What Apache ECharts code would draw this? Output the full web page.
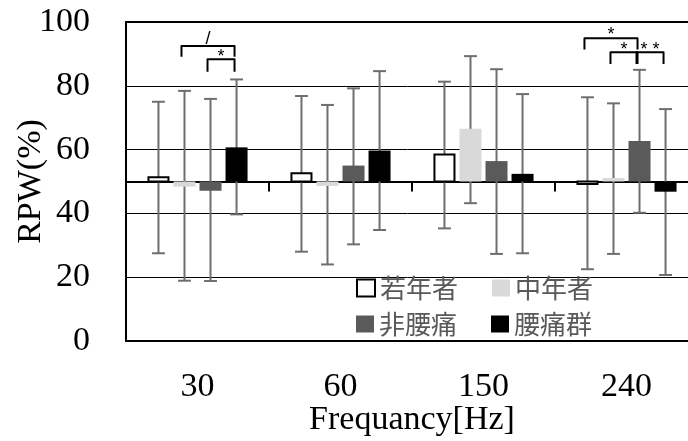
<!DOCTYPE html>
<html>
<head>
<meta charset="utf-8">
<script src="https://cdn.jsdelivr.net/npm/echarts/dist/echarts.min.js"></script>
<style>
  html, body { margin: 0; padding: 0; background: #fff; }
  #chart { width: 688px; height: 441px; }
</style>
</head>
<body>
<div id="chart"></div>
<script>
// categories and groups
var freqs = ['30', '60', '150', '240'];
var groupNames = ['若年者', '中年者', '非腰痛', '腰痛群'];

// mean RPW(%) per group, one value per frequency
var youngMean = [51.3, 52.6, 58.5, 49.2];
var middleMean = [48.4, 48.6, 66.5, 51.1];
var noPainMean = [47.1, 55.0, 56.4, 62.7];
var painMean = [60.7, 59.7, 52.4, 46.8];

// error bar ends (low / high)
var youngLow = [27.5, 28.0, 35.3, 22.5];
var youngHigh = [75.0, 76.8, 81.3, 76.4];
var middleLow = [18.9, 24.0, 43.2, 27.3];
var middleHigh = [78.4, 74.0, 89.3, 74.5];
var noPainLow = [18.8, 30.3, 27.3, 40.2];
var noPainHigh = [75.9, 79.2, 85.2, 85.0];
var painLow = [39.7, 34.8, 27.5, 20.7];
var painHigh = [82.0, 84.6, 77.4, 72.7];

// significance brackets
var brCat = [0, 0, 3, 3, 3];
var brFrom = [1, 2, 0, 1, 2];
var brTo = [3, 3, 2, 2, 3];
var brTop = [92.5, 88.3, 94.9, 90.5, 90.5];
var brLeg = [89.1, 84.4, 91.4, 86.8, 86.8];
var brLabelY = [94.7, 89.0, 95.8, 91.1, 91.1];
var brLabels = ['/', '*', '*', '*', '* *'];

var yTicks = [0, 20, 40, 60, 80, 100];
var baseValue = 50;

var serif = '"Liberation Serif", "Times New Roman", serif';
var cjk = '"Noto Sans CJK JP", "Noto Sans", sans-serif';
var errColor = '#6e6e6e';

var styles = [
  { fill: '#ffffff', stroke: '#000000', lineWidth: 2 },
  { fill: '#d9d9d9', stroke: null, lineWidth: 0 },
  { fill: '#5a5a5a', stroke: null, lineWidth: 0 },
  { fill: '#000000', stroke: null, lineWidth: 0 }
];

function barX(api, cat, k) {
  var band = api.size([1, 0])[0];
  return api.coord([cat, baseValue])[0] + (k - 1.5) * band * 0.182;
}

function makeRender(k) {
  return function (params, api) {
    var cat = api.value(0);
    var band = api.size([1, 0])[0];
    var x = barX(api, cat, k);
    var w = band * 0.154;
    var cap = band * 0.045;
    var y0 = api.coord([cat, baseValue])[1];
    var y1 = api.coord([cat, api.value(1)])[1];
    var yl = api.coord([cat, api.value(2)])[1];
    var yh = api.coord([cat, api.value(3)])[1];
    var st = styles[k];
    var errStyle = { stroke: errColor, lineWidth: 2 };
    return {
      type: 'group',
      children: [
        { type: 'line', shape: { x1: x, y1: yl, x2: x, y2: yh }, style: errStyle },
        { type: 'line', shape: { x1: x - cap, y1: yl, x2: x + cap, y2: yl }, style: errStyle },
        { type: 'line', shape: { x1: x - cap, y1: yh, x2: x + cap, y2: yh }, style: errStyle },
        {
          type: 'rect',
          shape: {
            x: x - w / 2 + st.lineWidth / 2,
            y: Math.min(y0, y1),
            width: w - st.lineWidth,
            height: Math.abs(y1 - y0)
          },
          style: { fill: st.fill, stroke: st.stroke, lineWidth: st.lineWidth }
        }
      ]
    };
  };
}

function buildData(mean, low, high) {
  return freqs.map(function (f, i) { return [i, mean[i], low[i], high[i]]; });
}

var groupData = [
  buildData(youngMean, youngLow, youngHigh),
  buildData(middleMean, middleLow, middleHigh),
  buildData(noPainMean, noPainLow, noPainHigh),
  buildData(painMean, painLow, painHigh)
];

var series = groupNames.map(function (name, k) {
  return {
    name: name,
    type: 'custom',
    renderItem: makeRender(k),
    data: groupData[k],
    encode: { x: 0, y: [1, 2, 3] },
    itemStyle: { color: styles[k].fill },
    z: 3
  };
});

var bracketData = brCat.map(function (c, i) {
  return [c, brFrom[i], brTo[i], brTop[i], brLeg[i], brLabelY[i], i];
});

series.push({
  name: 'brackets',
  type: 'custom',
  data: bracketData,
  encode: { x: 0, y: [3, 4, 5] },
  z: 4,
  renderItem: function (params, api) {
    var cat = api.value(0);
    var x1 = barX(api, cat, api.value(1)) - 3;
    var x2 = barX(api, cat, api.value(2)) - 2;
    var yTop = api.coord([cat, api.value(3)])[1];
    var yLeg = api.coord([cat, api.value(4)])[1];
    var yLab = api.coord([cat, api.value(5)])[1];
    return {
      type: 'group',
      children: [
        {
          type: 'polyline',
          shape: { points: [[x1, yLeg], [x1, yTop], [x2, yTop], [x2, yLeg]] },
          style: { stroke: '#000', lineWidth: 2, fill: null, lineJoin: 'round' }
        },
        {
          type: 'text',
          x: (x1 + x2) / 2,
          y: yLab,
          style: {
            text: brLabels[api.value(6)],
            fill: '#000',
            font: '18px "Liberation Sans", sans-serif',
            align: 'center',
            verticalAlign: 'middle'
          }
        }
      ]
    };
  }
});

var chart = echarts.init(document.getElementById('chart'));

function legendItem(name, k) {
  var st = styles[k];
  return {
    name: name,
    icon: 'rect',
    itemStyle: { color: st.fill, borderColor: st.stroke || st.fill, borderWidth: st.lineWidth }
  };
}

var legendText = { fontSize: 26, color: '#595959', fontFamily: cjk };

chart.setOption({
  animation: false,
  backgroundColor: '#fff',
  grid: {
    left: 126, top: 22, right: -10, bottom: 100,
    show: true, borderColor: '#000', borderWidth: 2,
    containLabel: false, outerBoundsMode: 'none'
  },
  legend: [
    {
      data: [legendItem(groupNames[0], 0), legendItem(groupNames[1], 1)],
      left: 351, top: 270, orient: 'horizontal',
      itemWidth: 18, itemHeight: 17, itemGap: 34,
      textStyle: legendText, selectedMode: false
    },
    {
      data: [legendItem(groupNames[2], 2), legendItem(groupNames[3], 3)],
      left: 351, top: 306, orient: 'horizontal',
      itemWidth: 18, itemHeight: 17, itemGap: 34,
      textStyle: legendText, selectedMode: false
    }
  ],
  xAxis: [
    {
      type: 'category',
      data: freqs,
      position: 'bottom',
      name: 'Frequancy[Hz]',
      nameLocation: 'middle',
      nameGap: 62,
      nameMoveOverlap: false,
      nameTextStyle: { fontSize: 34, fontFamily: serif, color: '#000' },
      axisLine: { show: true, lineStyle: { color: '#000', width: 2 } },
      axisTick: { show: false },
      axisLabel: { fontSize: 34, fontFamily: serif, color: '#000', margin: 29 },
      splitLine: { show: false }
    },
    {
      // axis crossing at 50 with downward ticks between categories
      type: 'category',
      data: freqs,
      position: 'bottom',
      offset: -159.5,
      axisLine: { show: true, lineStyle: { color: '#000', width: 2 } },
      axisTick: { show: true, length: 10, lineStyle: { color: '#000', width: 2 } },
      axisLabel: { show: false },
      splitLine: { show: false }
    }
  ],
  yAxis: {
    type: 'value',
    min: yTicks[0],
    max: yTicks[yTicks.length - 1],
    interval: 20,
    name: 'RPW(%)',
    nameLocation: 'middle',
    nameGap: 78,
    nameMoveOverlap: false,
    nameTextStyle: { fontSize: 34, fontFamily: serif, color: '#000' },
    axisLine: { show: true, lineStyle: { color: '#000', width: 2 } },
    axisTick: { show: false },
    axisLabel: { fontSize: 34, fontFamily: serif, color: '#000', margin: 36 },
    splitLine: { show: true, lineStyle: { color: '#000', width: 1 } }
  },
  series: series
});
</script>
</body>
</html>
